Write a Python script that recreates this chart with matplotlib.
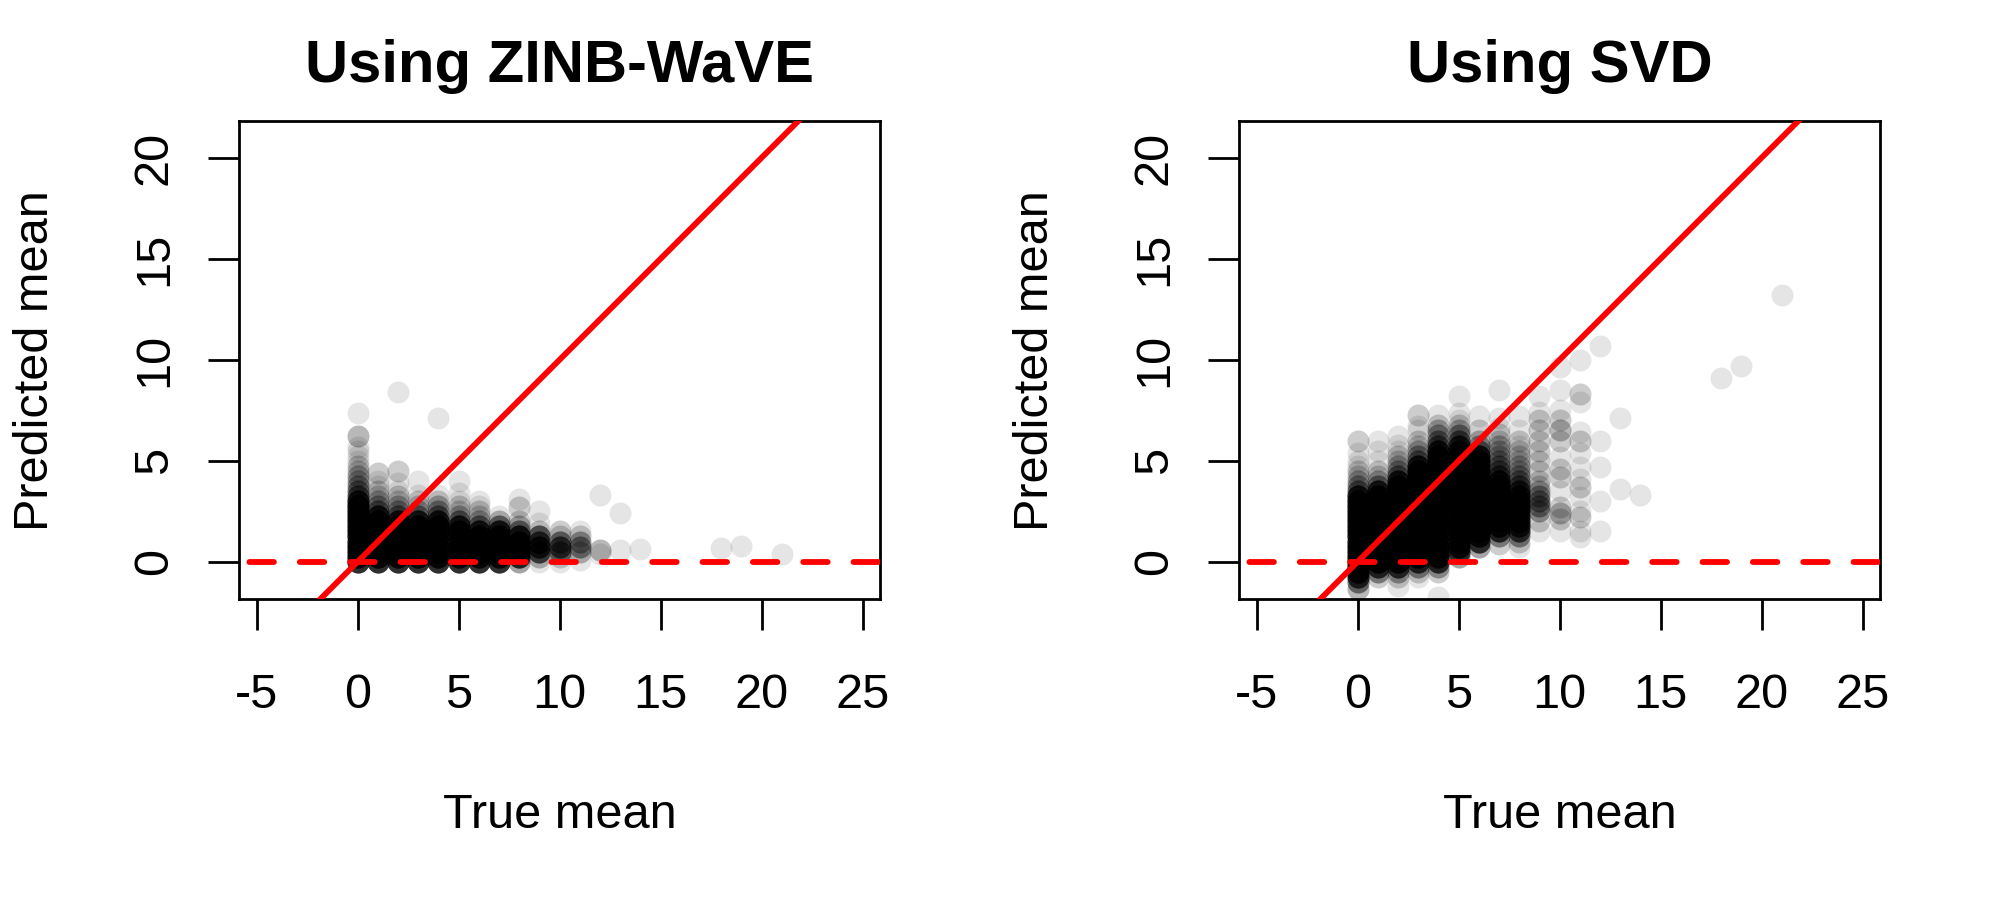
import numpy as np
import matplotlib
matplotlib.use("Agg")
import matplotlib.pyplot as plt

plt.rcParams['font.family'] = ['Liberation Sans', 'DejaVu Sans']
plt.rcParams['axes.unicode_minus'] = False

# --- data: one column of points per true mean ---
# each predicted value is drawn "count" times (overlap gives the darkness)
zinb_true = [0, 1, 2, 3, 4, 5, 6, 7, 8, 9, 10, 11, 12, 13, 14, 18, 19, 21]
zinb_pred = [
    [0, .25, .5, .75, 1, 1.25, 1.5, 1.75, 2, 2.25, 2.5, 2.75, 3, 3.25, 3.5, 3.75, 4, 4.25, 4.5, 4.75, 5, 5.25, 5.5, 5.7, 6.2, 7.35],
    [0, .25, .5, .75, 1, 1.25, 1.5, 1.75, 2, 2.25, 2.5, 2.75, 3, 3.25, 3.5, 3.75, 4, 4.4],
    [0, .25, .5, .75, 1, 1.25, 1.5, 1.75, 2, 2.25, 2.5, 2.75, 3, 3.25, 3.5, 3.9, 4.5, 8.4],
    [0, .25, .5, .75, 1, 1.25, 1.5, 1.75, 2, 2.25, 2.5, 2.75, 3, 3.3, 4.0],
    [0, .25, .5, .75, 1, 1.25, 1.5, 1.75, 2, 2.25, 2.5, 2.75, 3, 3.3, 7.1],
    [0, .25, .5, .75, 1, 1.25, 1.5, 1.75, 2, 2.25, 2.5, 2.75, 3, 3.4, 4.0],
    [0, .25, .5, .75, 1, 1.25, 1.5, 1.75, 2, 2.25, 2.5, 2.75, 3],
    [0, .25, .5, .75, 1, 1.25, 1.5, 1.75, 2, 2.25],
    [0, .25, .5, .75, 1, 1.25, 1.5, 1.75, 2, 2.7, 3.1],
    [0, .25, .5, .75, 1, 1.25, 1.5, 1.9, 2.5],
    [0, .25, .5, .75, 1, 1.25, 1.5],
    [0.1, .5, .75, 1, 1.25, 1.5],
    [0.4, 0.58, 3.3],
    [0.58, 2.4],
    [0.65],
    [0.7],
    [0.8],
    [0.4],
]
zinb_count = [
    [15, 15, 15, 15, 15, 15, 15, 15, 15, 15, 15, 15, 14, 7, 5, 4, 3, 3, 2, 2, 1, 1, 1, 1, 3, 1],
    [15, 15, 15, 15, 15, 15, 15, 15, 15, 14, 6, 4, 3, 2, 2, 1, 1, 2],
    [15, 15, 15, 15, 15, 15, 15, 15, 14, 6, 4, 3, 2, 2, 1, 1, 2, 1],
    [15, 15, 15, 15, 15, 15, 15, 15, 14, 5, 3, 2, 2, 1, 1],
    [15, 15, 15, 15, 15, 15, 15, 15, 14, 6, 4, 3, 2, 1, 1],
    [15, 15, 15, 15, 15, 15, 15, 14, 6, 3, 2, 2, 1, 1, 1],
    [15, 15, 15, 15, 15, 15, 14, 6, 3, 2, 2, 1, 1],
    [15, 15, 15, 15, 15, 15, 14, 6, 3, 1],
    [4, 14, 15, 15, 15, 14, 6, 3, 2, 2, 1],
    [1, 3, 10, 12, 10, 8, 2, 1, 1],
    [1, 2, 7, 9, 6, 2, 2],
    [1, 3, 5, 4, 2, 1],
    [1, 3, 1],
    [1, 1],
    [1],
    [1],
    [1],
    [1],
]

svd_true = [0, 1, 2, 3, 4, 5, 6, 7, 8, 9, 10, 11, 12, 13, 14, 18, 19, 21]
svd_pred = [
    [-1.35, -1, -.75, -.5, -.25, 0, .25, .5, .75, 1, 1.25, 1.5, 1.75, 2, 2.25, 2.5, 2.75, 3, 3.25, 3.5, 3.75, 4, 4.25, 4.5, 4.75, 5, 5.4, 6.0],
    [-.75, -.5, -.25, 0, .25, .5, .75, 1, 1.25, 1.5, 1.75, 2, 2.25, 2.5, 2.75, 3, 3.25, 3.5, 3.75, 4, 4.25, 4.5, 5, 5.5, 6.0],
    [-1.2, -.75, -.5, -.25, 0, .25, .5, .75, 1, 1.25, 1.5, 1.75, 2, 2.25, 2.5, 2.75, 3, 3.25, 3.5, 3.75, 4, 4.25, 4.5, 4.75, 5, 5.25, 5.5, 5.8, 6.2],
    [-.75, -.5, -.25, 0, .25, .5, .75, 1, 1.25, 1.5, 1.75, 2, 2.25, 2.5, 2.75, 3, 3.25, 3.5, 3.75, 4, 4.25, 4.5, 4.75, 5, 5.25, 5.5, 5.75, 6, 6.5, 6.7, 7.25],
    [-1.75, -.5, -.25, 0, .25, .5, .75, 1, 1.25, 1.5, 1.75, 2, 2.25, 2.5, 2.75, 3, 3.25, 3.5, 3.75, 4, 4.25, 4.5, 4.75, 5, 5.25, 5.5, 5.75, 6, 6.25, 6.5, 6.75, 7.25],
    [.25, .5, .75, 1, 1.25, 1.5, 1.75, 2, 2.25, 2.5, 2.75, 3, 3.25, 3.5, 3.75, 4, 4.25, 4.5, 4.75, 5, 5.25, 5.5, 5.75, 6, 6.25, 6.5, 6.75, 7, 7.35, 8.2],
    [.75, 1, 1.25, 1.5, 1.75, 2, 2.25, 2.5, 2.75, 3, 3.25, 3.5, 3.75, 4, 4.25, 4.5, 4.75, 5, 5.25, 5.5, 5.75, 6, 6.5, 7.2],
    [.9, 1.25, 1.5, 1.75, 2, 2.25, 2.5, 2.75, 3, 3.25, 3.5, 3.75, 4, 4.25, 4.5, 4.75, 5, 5.25, 5.5, 5.75, 6, 6.3, 6.6, 7.1, 8.5],
    [.75, 1, 1.25, 1.5, 1.75, 2, 2.25, 2.5, 2.75, 3, 3.25, 3.5, 3.75, 4, 4.25, 4.5, 4.75, 5, 5.25, 5.5, 5.75, 6, 6.5, 7.2],
    [1.5, 2, 2.5, 2.75, 3, 3.25, 3.5, 3.75, 4, 4.5, 5, 5.5, 6, 6.5, 7, 7.4, 8.2],
    [1.5, 2.1, 2.4, 2.7, 3.5, 4.2, 4.6, 5.2, 6, 6.5, 7, 7.5, 8.5, 9.65],
    [1.2, 1.5, 2.2, 2.5, 3.2, 3.7, 4.1, 4.7, 5.4, 6, 6.4, 7.9, 8.3, 10.0],
    [1.5, 3.0, 4.7, 6.0, 10.7],
    [3.6, 7.1],
    [3.3],
    [9.1],
    [9.7],
    [13.2],
]
svd_count = [
    [3, 6, 12, 15, 15, 15, 15, 15, 15, 15, 15, 15, 15, 15, 15, 15, 15, 15, 14, 6, 4, 3, 2, 2, 1, 1, 1, 2],
    [2, 5, 12, 15, 15, 15, 15, 15, 15, 15, 15, 15, 15, 15, 15, 15, 15, 14, 5, 3, 2, 2, 1, 1, 1],
    [1, 2, 4, 12, 15, 15, 15, 15, 15, 15, 15, 15, 15, 15, 15, 15, 15, 15, 15, 15, 14, 6, 4, 3, 2, 2, 1, 1, 1],
    [1, 2, 5, 12, 15, 15, 15, 15, 15, 15, 15, 15, 15, 15, 15, 15, 15, 15, 15, 15, 15, 15, 14, 6, 4, 3, 2, 2, 1, 1, 2],
    [1, 2, 4, 12, 15, 15, 15, 15, 15, 15, 15, 15, 15, 15, 15, 15, 15, 15, 15, 15, 15, 15, 15, 15, 15, 14, 7, 5, 4, 3, 2, 1],
    [4, 12, 15, 15, 15, 15, 15, 15, 15, 15, 15, 15, 15, 15, 15, 15, 15, 15, 15, 15, 15, 14, 12, 7, 5, 3, 2, 1, 1, 1],
    [4, 12, 15, 15, 15, 15, 15, 15, 15, 15, 15, 15, 15, 15, 15, 15, 15, 15, 14, 6, 4, 3, 2, 1],
    [2, 5, 12, 15, 15, 15, 15, 15, 15, 15, 15, 15, 14, 8, 6, 5, 4, 3, 3, 3, 2, 2, 1, 1, 1],
    [1, 2, 5, 10, 12, 12, 12, 12, 12, 12, 12, 11, 7, 5, 4, 3, 3, 2, 2, 2, 1, 2, 1, 1],
    [1, 2, 4, 5, 5, 4, 3, 2, 2, 2, 2, 2, 2, 2, 2, 1, 1],
    [1, 2, 3, 2, 1, 2, 2, 1, 2, 3, 2, 1, 1, 1],
    [1, 1, 2, 1, 1, 2, 1, 1, 1, 2, 1, 1, 2, 1],
    [1, 1, 1, 1, 1],
    [1, 1],
    [1],
    [1],
    [1],
    [1],
]

titles = ['Using ZINB-WaVE', 'Using SVD']
xlab = 'True mean'
ylab = 'Predicted mean'


def expand(cols, preds, counts):
    xs, ys = [], []
    for c, p, n in zip(cols, preds, counts):
        assert len(p) == len(n), (c, len(p), len(n))
        xs.extend([c] * int(np.sum(n)))
        ys.extend(np.repeat(p, n))
    return np.array(xs, dtype=float), np.array(ys, dtype=float)


W, H = 2000, 900
fig = plt.figure(figsize=(20, 9), dpi=100)

# plot boxes in pixels (left, top, right, bottom), second one 1000 px to the right
box = (239.3, 120.7, 880.0, 599.3)
lw = 4.2

panels = [expand(zinb_true, zinb_pred, zinb_count),
          expand(svd_true, svd_pred, svd_count)]

for i, (x, y) in enumerate(panels):
    off = 1000 * i
    l, t, r, b = box
    ax = fig.add_axes([(l + off) / W, 1 - b / H, (r - l) / W, (b - t) / H])

    ax.scatter(x, y, s=250, c='black', alpha=0.1, linewidths=0, zorder=2)
    ax.axline((0, 0), slope=1, color='red', lw=lw, zorder=3)
    ax.axhline(0, color='red', lw=lw, linestyle=(6.84, (4.2, 4.43)),
               dash_capstyle='round', zorder=3)

    ax.set_xlim(-5.86, 25.86)
    ax.set_ylim(-1.86, 21.83)
    ax.set_xticks(range(-5, 26, 5))
    ax.set_yticks(range(0, 21, 5))
    for s in ax.spines.values():
        s.set_linewidth(2)
    ax.tick_params(length=22.6, width=2, labelsize=35)
    ax.tick_params(axis='x', pad=30.5)
    ax.tick_params(axis='y', pad=22.3)
    for lbl in ax.get_yticklabels():
        lbl.set_rotation(90)
        lbl.set_va('center')

    cx = (l + r) / 2 + off
    fig.text(cx / W, 1 - 82 / H, titles[i], ha='center', va='baseline',
             fontsize=43, fontweight='bold')
    fig.text(cx / W, 1 - 828 / H, xlab, ha='center', va='baseline', fontsize=35)
    fig.text((48 + off) / W, 1 - 361 / H, ylab, rotation=90, rotation_mode='anchor',
             ha='center', va='baseline', fontsize=35)

fig.savefig('out.png', dpi=100, facecolor='white')
